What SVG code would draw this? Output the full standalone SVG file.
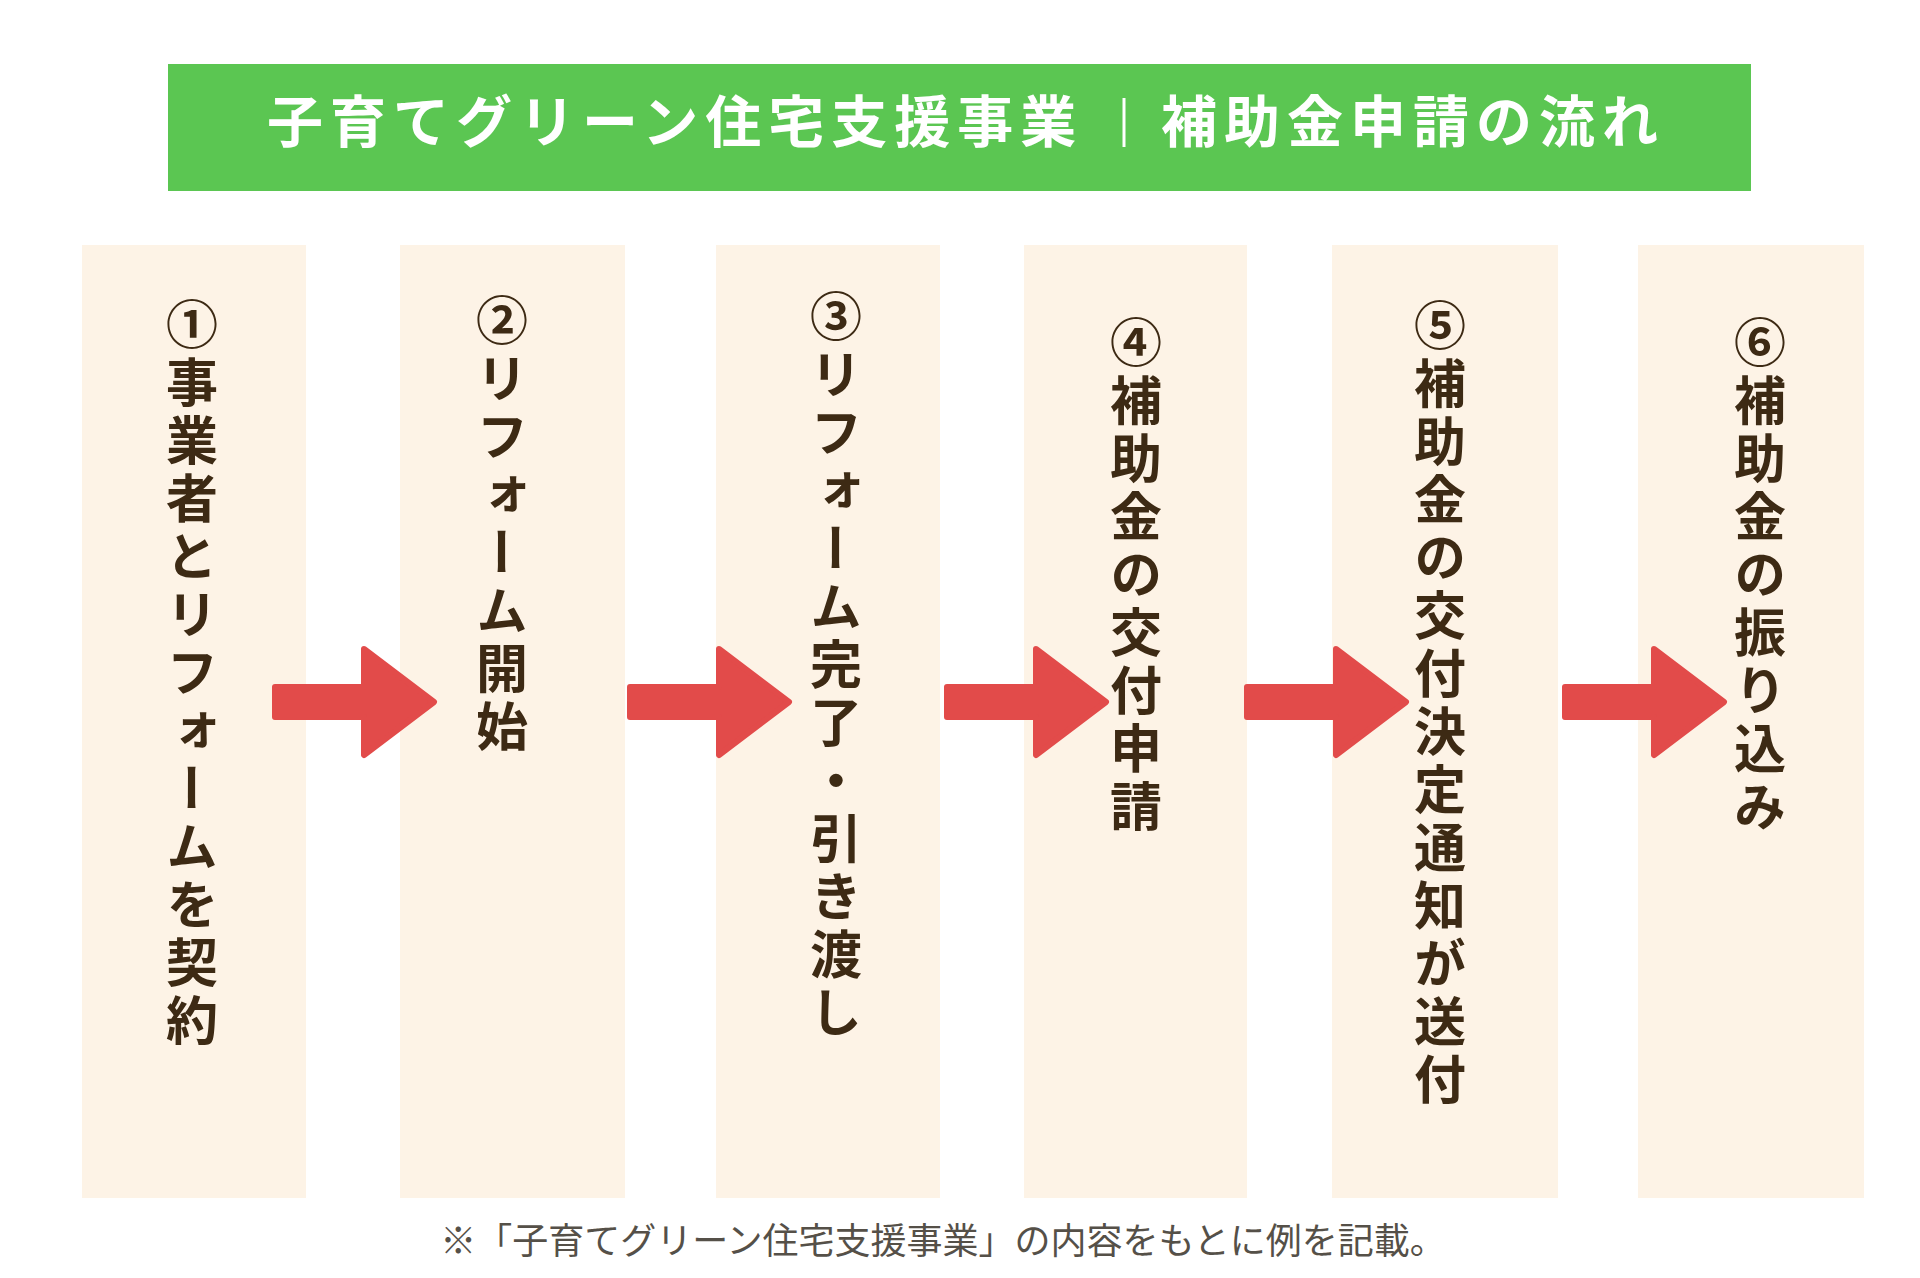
<svg xmlns="http://www.w3.org/2000/svg" width="1920" height="1278" viewBox="0 0 1920 1278">
<style>
.panel{fill:#fdf3e6}
.step{font-family:"Noto Sans CJK JP",sans-serif;font-weight:bold;font-size:52px;fill:#3d2a14;writing-mode:vertical-rl;letter-spacing:6px}
.title{font-family:"Noto Sans CJK JP",sans-serif;font-weight:bold;font-size:56px;fill:#ffffff;letter-spacing:7px}
.note{font-family:"Noto Sans CJK JP",sans-serif;font-size:36px;fill:#555048}
.arrow{fill:#e24b4a;stroke:#e24b4a;stroke-width:6;stroke-linejoin:round}
</style>
<defs>
<polygon id="arr" points="0,-15 89,-15 89,-53 159,0 89,53 89,15 0,15"/>
</defs>
<rect width="1920" height="1278" fill="#ffffff"/>
<g id="title">
<rect x="168" y="64" width="1583" height="127" fill="#5bc652"/>
<text class="title" x="267" y="142">子育てグリーン住宅支援事業</text>
<line x1="1124" y1="98" x2="1124" y2="147" stroke="#ffffff" stroke-width="3"/>
<text class="title" x="1161" y="142">補助金申請の流れ</text>
</g>
<g id="step1"><rect class="panel" x="82" y="245" width="224" height="953"/><text class="step" x="192" y="298">①事業者とリフォームを契約</text></g>
<g id="step2"><rect class="panel" x="400" y="245" width="225" height="953"/><text class="step" x="502" y="294">②リフォーム開始</text></g>
<g id="step3"><rect class="panel" x="716" y="245" width="224" height="953"/><text class="step" x="836" y="290">③リフォーム完了・引き渡し</text></g>
<g id="step4"><rect class="panel" x="1024" y="245" width="223" height="953"/><text class="step" x="1136" y="316">④補助金の交付申請</text></g>
<g id="step5"><rect class="panel" x="1332" y="245" width="226" height="953"/><text class="step" x="1440" y="299">⑤補助金の交付決定通知が送付</text></g>
<g id="step6"><rect class="panel" x="1638" y="245" width="226" height="953"/><text class="step" x="1760" y="316">⑥補助金の振り込み</text></g>
<g id="connectors">
<use href="#arr" class="arrow" transform="translate(275,702)"/>
<use href="#arr" class="arrow" transform="translate(630,702)"/>
<use href="#arr" class="arrow" transform="translate(947,702)"/>
<use href="#arr" class="arrow" transform="translate(1247,702)"/>
<use href="#arr" class="arrow" transform="translate(1565,702)"/>
</g>
<text class="note" x="943" y="1254" text-anchor="middle">※「子育てグリーン住宅支援事業」の内容をもとに例を記載。</text>
</svg>
